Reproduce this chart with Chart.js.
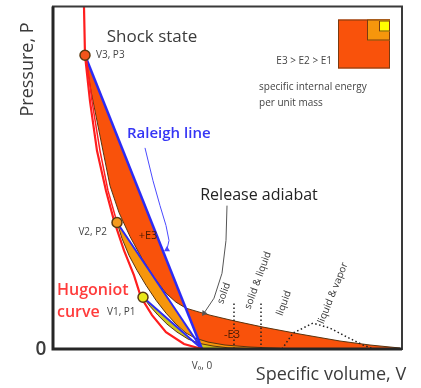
<!DOCTYPE html>
<html>
<head>
<meta charset="utf-8">
<script src="https://cdn.jsdelivr.net/npm/chart.js@4.4.0/dist/chart.umd.min.js"></script>
<style>
  body { margin: 0; background: #fff; }
  canvas { display: block; }
</style>
</head>
<body>
<canvas id="chart" width="421" height="388"></canvas>
<script>
// specific volume V (x) and pressure P (y), arbitrary units
const v0 = 4.269;
const stateNames = ['V3, P3', 'V2, P2', 'V1, P1'];
const stateV = [0.917, 1.834, 2.579];
const stateP = [8.576, 3.692, 1.512];

const hugoniotV = [0.888, 0.917, 1.06, 1.261, 1.519, 1.748, 2.034, 2.321, 2.521, 2.837, 3.238, 3.754, 4.269];
const hugoniotP = [10.0, 8.576, 7.238, 5.785, 4.622, 3.75, 2.878, 2.151, 1.512, 0.988, 0.494, 0.145, 0];
const hugoniotInnerV = [0.946, 1.117, 1.347, 1.576, 1.834];
const hugoniotInnerP = [8.576, 7.238, 5.785, 4.622, 3.692];

// release adiabats from each shock state
const adiabat3V = [0.917, 1.089, 1.261, 1.461, 1.633, 1.891, 2.206, 2.55, 2.894, 3.238, 3.524, 3.811, 4.097, 4.499, 5.215, 6.017, 7.077, 8.223, 9.083, 9.943];
const adiabat3P = [8.576, 7.529, 6.657, 5.64, 4.767, 3.983, 3.285, 2.645, 2.093, 1.628, 1.366, 1.192, 1.105, 0.988, 0.814, 0.64, 0.436, 0.233, 0.116, 0.029];
const adiabat2V = [1.834, 1.977, 2.178, 2.407, 2.665, 2.951, 3.238, 3.524, 3.811, 4.069, 4.441, 4.928, 5.645, 6.504];
const adiabat2P = [3.692, 3.227, 2.733, 2.297, 1.86, 1.424, 1.047, 0.727, 0.465, 0.32, 0.203, 0.116, 0.058, 0.02];
const adiabat1V = [2.579, 2.779, 3.009, 3.266, 3.553, 3.868, 4.212, 4.585, 5.014, 5.587];
const adiabat1P = [1.512, 1.25, 0.988, 0.727, 0.494, 0.291, 0.16, 0.087, 0.035, 0.012];

// phase boundaries
const phaseLineV = [5.186, 5.96];
const phaseLineTop = 1.337;
const domeV = [6.562, 6.877, 7.45, 7.937, 8.424, 8.883, 9.14];
const domeP = [0, 0.465, 0.756, 0.61, 0.349, 0.116, 0.015];

// pointer arrows
const raleighArrowV = [2.636, 2.865, 3.066, 3.238, 3.324, 3.266];
const raleighArrowP = [5.872, 4.913, 4.186, 3.605, 3.169, 2.907];
const releaseArrowV = [4.986, 4.957, 4.842, 4.613, 4.327];
const releaseArrowP = [4.186, 3.169, 2.209, 1.483, 1.047];

const energyColors = ['#f9520b', '#f6960c', '#cdc41c'];
const FONT = '"Open Sans", "DejaVu Sans", sans-serif';

function pts(xs, ys) {
  return xs.map((x, i) => ({ x: x, y: ys[i] }));
}

function area(xs, ys, color, order) {
  let data = pts(xs, ys).concat([{ x: xs[xs.length - 1], y: 0 }, { x: v0, y: 0 }]);
  return {
    data: data, fill: 'shape', backgroundColor: color,
    borderColor: 'rgba(0,0,0,0)', borderWidth: 0, pointRadius: 0, order: order,
  };
}

function curve(data, color, width, order, dash) {
  return {
    data: data, fill: false, borderColor: color, borderWidth: width,
    borderDash: dash || [], pointRadius: 0, order: order,
  };
}

function arrow(xs, ys, color, turn) {
  let n = xs.length;
  return {
    data: pts(xs, ys), fill: false, borderColor: color, borderWidth: 1,
    pointRadius: xs.map((x, i) => (i == n - 1 ? 3.5 : 0)),
    pointStyle: 'triangle', rotation: turn,
    pointBackgroundColor: color, pointBorderWidth: 0, order: 3,
  };
}

const datasets = [
  area(adiabat3V, adiabat3P, energyColors[0], 10),
  area(adiabat2V, adiabat2P, energyColors[1], 9),
  area(adiabat1V, adiabat1P, energyColors[2], 8),
  curve(pts(adiabat3V, adiabat3P), '#5a3510', 1, 6),
  curve(pts(adiabat2V, adiabat2P), '#5a3510', 1, 6),
  curve(pts(adiabat1V, adiabat1P), '#5a3510', 1, 6),
  curve(pts([stateV[0], v0], [stateP[0], 0]), '#2b2bf5', 2.5, 5),
  curve(pts([stateV[1], v0], [stateP[1], 0]), '#2b2bf5', 2, 5),
  curve(pts([stateV[2], v0], [stateP[2], 0]), '#2b2bf5', 2, 5),
  curve(pts(hugoniotV, hugoniotP), '#ff1e1e', 2.2, 4),
  curve(pts(hugoniotInnerV, hugoniotInnerP), '#ff1e1e', 1.5, 4),
  curve(pts([phaseLineV[0], phaseLineV[0]], [0, phaseLineTop]), '#222', 1.5, 2, [1.5, 2.5]),
  curve(pts([phaseLineV[1], phaseLineV[1]], [0, phaseLineTop]), '#222', 1.5, 2, [1.5, 2.5]),
  curve(pts(domeV, domeP), '#222', 1.5, 2, [1.5, 2.5]),
  arrow(raleighArrowV, raleighArrowP, '#4a4aff', 240),
  arrow(releaseArrowV, releaseArrowP, '#555', 214),
  {
    data: pts(stateV, stateP), showLine: false, order: 0,
    pointRadius: 5, pointBackgroundColor: ['#f2551a', '#f39a1e', '#e8e61a'],
    pointBorderColor: '#5a3a10', pointBorderWidth: 1.5,
  },
];

function text(ctx, str, x, y, font, color, align, rot) {
  ctx.save();
  ctx.translate(x, y);
  if (rot) ctx.rotate((rot * Math.PI) / 180);
  ctx.font = font;
  ctx.fillStyle = color;
  ctx.textAlign = align || 'center';
  ctx.textBaseline = 'middle';
  ctx.fillText(str, 0, 0);
  ctx.restore();
}

const diagramText = {
  id: 'diagramText',
  afterDraw(chart) {
    const ctx = chart.ctx;
    const a = chart.chartArea;
    const sx = chart.scales.x;
    const sy = chart.scales.y;
    const px = (v) => sx.getPixelForValue(v);
    const py = (p) => sy.getPixelForValue(p);

    // frame
    ctx.save();
    ctx.strokeStyle = '#3a3a3a';
    ctx.lineWidth = 2;
    ctx.strokeRect(a.left, a.top, a.right - a.left, a.bottom - a.top);
    ctx.strokeStyle = '#262626';
    ctx.lineWidth = 3;
    ctx.beginPath();
    ctx.moveTo(a.left, a.top);
    ctx.lineTo(a.left, a.bottom);
    ctx.lineTo(a.right, a.bottom);
    ctx.stroke();

    // energy key
    const keys = [[52, 49], [23, 21], [11, 11]];
    keys.forEach((k, i) => {
      ctx.fillStyle = i == 2 ? '#ffff00' : energyColors[i];
      ctx.strokeStyle = '#7a3a10';
      ctx.lineWidth = 1;
      const x = a.right - 12 - k[0];
      const y = a.top + 13 + (i == 2 ? 1 : 0);
      ctx.fillRect(x, y, k[0], k[1]);
      ctx.strokeRect(x + 0.5, y + 0.5, k[0] - 1, k[1] - 1);
    });
    ctx.restore();

    const dark = '#3b3b3b';
    text(ctx, 'Pressure, P', a.left - 25, a.top + 63, '18px ' + FONT, dark, 'center', -90);
    text(ctx, '0', a.left - 12, a.bottom + 1, '600 19px ' + FONT, dark);
    text(ctx, 'Specific volume, V', a.left + 278, a.bottom + 26, '18px ' + FONT, dark);

    text(ctx, 'Shock state', px(2.837), py(9.099), '17px ' + FONT, dark);
    text(ctx, stateNames[0], px(stateV[0]) + 11, py(stateP[0]), '10px ' + FONT, '#444', 'left');
    text(ctx, stateNames[1], px(stateV[1]) - 10, py(stateP[1]) + 10, '10px ' + FONT, '#444', 'right');
    text(ctx, stateNames[2], px(1.547), py(1.076), '10px ' + FONT, '#444', 'left');
    text(ctx, 'V\u2080, 0', px(v0), a.bottom + 17, '10px ' + FONT, '#444');

    text(ctx, 'E3 > E2 > E1', px(7.994), py(8.401), '10px ' + FONT, '#444', 'right');
    text(ctx, 'specific internal energy', px(5.903), py(7.645), '10px ' + FONT, '#444', 'left');
    text(ctx, 'per unit mass', px(5.903), py(7.18), '10px ' + FONT, '#444', 'left');

    text(ctx, 'Raleigh line', px(2.12), py(6.279), '600 15px ' + FONT, '#3535f5', 'left');
    text(ctx, 'Release adiabat', px(5.903), py(4.477), '16px ' + FONT, '#222');
    text(ctx, 'Hugoniot', px(0.115), py(1.715), '600 16px ' + FONT, '#ff3b3b', 'left');
    text(ctx, 'curve', px(0.115), py(1.076), '600 16px ' + FONT, '#ff3b3b', 'left');
    text(ctx, '+E3', px(2.722), py(3.314), '11px ' + FONT, '#4a1a00');
    text(ctx, '-E3', px(5.129), py(0.407), '11px ' + FONT, '#4a1a00');

    text(ctx, 'solid', px(4.9), py(1.628), '10px ' + FONT, '#333', 'center', -70);
    text(ctx, 'solid & liquid', px(5.874), py(2.006), '10px ' + FONT, '#333', 'center', -70);
    text(ctx, 'liquid', px(6.619), py(1.337), '10px ' + FONT, '#333', 'center', -70);
    text(ctx, 'liquid & vapor', px(8.023), py(1.628), '10px ' + FONT, '#333', 'center', -68);
  },
};

new Chart(document.getElementById('chart'), {
  type: 'line',
  data: { datasets: datasets },
  options: {
    responsive: false,
    animation: false,
    devicePixelRatio: 1,
    layout: { padding: { left: 53, top: 5, right: 19, bottom: 39 } },
    elements: { line: { tension: 0 } },
    plugins: { legend: { display: false }, tooltip: { enabled: false } },
    scales: {
      x: { type: 'linear', min: 0, max: 10, display: false },
      y: { type: 'linear', min: 0, max: 10, display: false },
    },
  },
  plugins: [diagramText],
});
</script>
</body>
</html>
